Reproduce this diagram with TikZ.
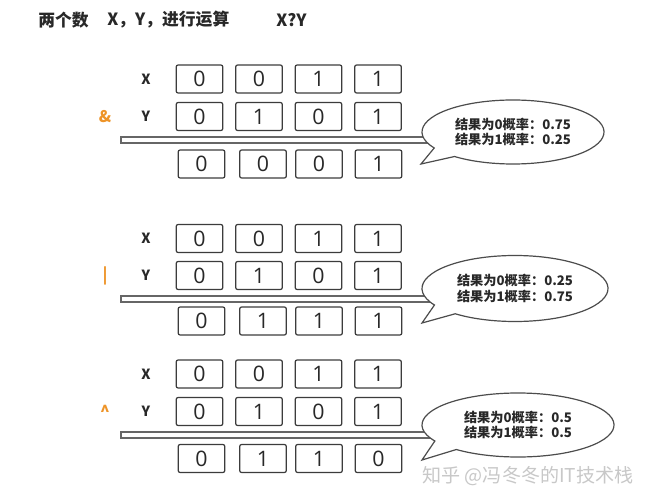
\documentclass[tikz,border=0pt]{standalone}
\usepackage{fontspec}
\usetikzlibrary{calc}
\setmainfont{Open Sans}
\newfontfamily\cjk{Noto Sans CJK SC}
\newfontfamily\digitfont{Open Sans}
\definecolor{opcol}{RGB}{238,148,40}
\definecolor{boxline}{RGB}{60,60,60}
\definecolor{txt}{RGB}{40,40,40}
\definecolor{wm}{RGB}{200,200,200}
\tikzset{
  bitbox/.style={draw=boxline, fill=white, line width=0.9pt, rounded corners=1.5pt,
    minimum width=35pt, minimum height=21pt, inner sep=0pt,
    font=\digitfont\fontsize{16}{16}\selectfont, text=txt},
  rowlabel/.style={font=\cjk\bfseries\fontsize{10.5}{10.5}\selectfont, text=txt, inner sep=0pt},
  oplabel/.style={font=\cjk\bfseries\fontsize{12}{12}\selectfont, text=opcol, inner sep=0pt},
  title/.style={font=\cjk\bfseries\fontsize{12.6}{12.6}\selectfont, text=txt, anchor=west, inner sep=0pt},
  bartxt/.style={draw=black!60, fill=white, line width=0.8pt},
  bubble/.style={draw=black!70, fill=white, line width=0.9pt},
  bubbletxt/.style={font=\cjk\bfseries\fontsize{9.9}{11.8}\selectfont, text=txt, align=left, inner sep=0pt},
}
\begin{document}
\begin{tikzpicture}[x=0.75pt,y=-0.75pt]
\useasboundingbox[fill=white] (0,0) rectangle (652,502);
% title
\node[title] (t1) at (38,20) {两个数};
\node[title] (t2) at (107,20) {X，Y，进行运算};
\node[title] (t3) at (276,20) {X?Y};

\newcommand\opblock[7]{%
  % #1 id, #2 yX, #3 yY, #4 bar top, #5 yRes, #6 operator, #7 result digits
  \node[rowlabel] (#1lx) at (146,#2) {X};
  \node[rowlabel] (#1ly) at (146,#3) {Y};
  \node[oplabel] (#1op) at (105,#3) {#6};
  \foreach \v [count=\i] in {0,0,1,1}
    \node[bitbox] (#1x\i) at ({140+59.5*\i},#2) {\v};
  \foreach \v [count=\i] in {0,1,0,1}
    \node[bitbox] (#1y\i) at ({140+59.5*\i},#3) {\v};
  \draw[bartxt] (121,#4) rectangle (440,{#4+6});
  \foreach \v/\xx [count=\i] in {#7}
    \node[bitbox] (#1r\i) at (\xx,#5) {\v};
}

\newcommand\speech[7]{%
  % #1 id, #2 cx, #3 cy, #4 rx, #5 ry, #6 tip, #7 text
  \coordinate (#1c) at (#2,#3);
  \coordinate (#1tip) at #6;
  \draw[bubble] ($(#1c)+(150:#4 and #5)$) arc[start angle=150, end angle=490, x radius=#4, y radius=#5] -- (#1tip) -- cycle;
  \node[bubbletxt] (#1t) at (#2,#3) {#7};
}

\opblock{a}{79}{116.5}{137}{164}{\&}{0/201.5,0/263,0/319,1/378.5}
\opblock{b}{238.5}{275.5}{296}{321}{|}{0/201.5,1/263,1/319,1/378.5}
\opblock{c}{374}{411.5}{432}{458.5}{\^{}}{0/201.5,1/263,1/319,0/378.5}

\speech{ba}{513}{132}{91}{32}{(421,164)}{结果为0概率：0.75\\结果为1概率：0.25}
\speech{bb}{515}{288.5}{93}{33}{(422,323)}{结果为0概率：0.25\\结果为1概率：0.75}
\speech{bc}{518}{425}{96}{32}{(422,460)}{结果为0概率：0.5\\结果为1概率：0.5}

% watermark
\node[font=\cjk\fontsize{14.3}{14.3}\selectfont, text=wm, inner sep=0pt] (wmk) at (528,476) {知乎 @冯冬冬的IT技术栈};
\end{tikzpicture}
\end{document}
